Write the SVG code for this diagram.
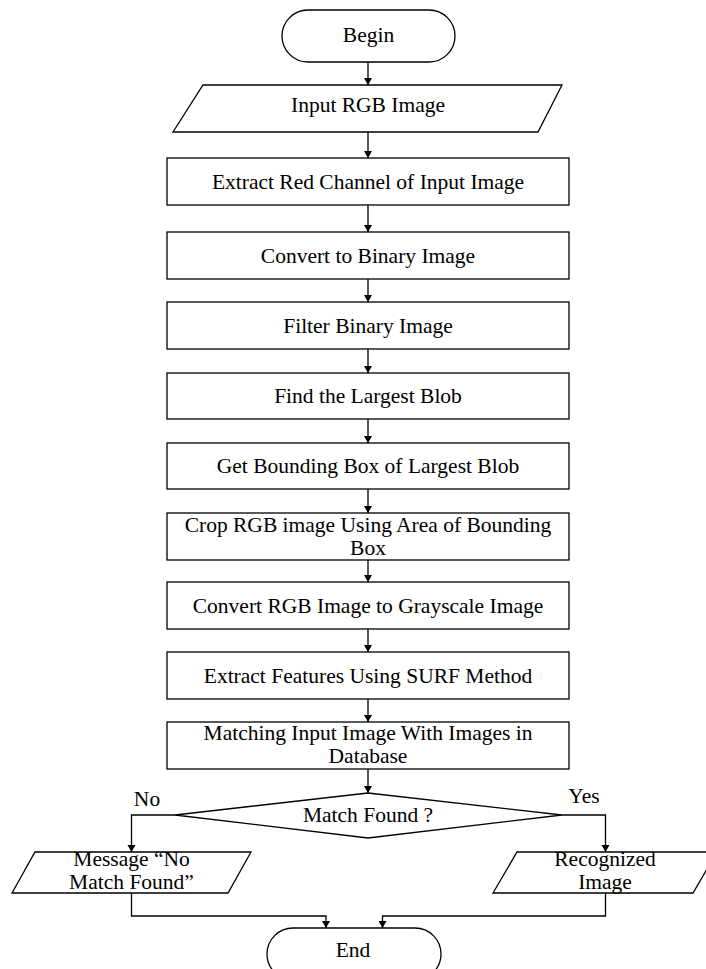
<svg xmlns="http://www.w3.org/2000/svg" width="706" height="969" viewBox="0 0 706 969">
<defs>
<style>
.s{fill:#fff;stroke:#000;stroke-width:1.3}
.c{fill:none;stroke:#000;stroke-width:1.3}
text{font-family:"Liberation Serif","Times New Roman",serif;font-size:21.5px;fill:#000;text-anchor:middle}
</style>
<marker id="ah" markerUnits="userSpaceOnUse" markerWidth="9" markerHeight="9" refX="7" refY="4" orient="auto">
<path d="M0,0 L7,4 L0,8 z" fill="#000"/>
</marker>
</defs>
<rect width="706" height="969" fill="#fff"/>
<g id="connectors">
<path class="c" marker-end="url(#ah)" d="M368,62 V85"/>
<path class="c" marker-end="url(#ah)" d="M368,132 V158"/>
<path class="c" marker-end="url(#ah)" d="M368,205 V232"/>
<path class="c" marker-end="url(#ah)" d="M368,279 V302"/>
<path class="c" marker-end="url(#ah)" d="M368,349 V373"/>
<path class="c" marker-end="url(#ah)" d="M368,419 V443"/>
<path class="c" marker-end="url(#ah)" d="M368,489 V513"/>
<path class="c" marker-end="url(#ah)" d="M368,560 V582"/>
<path class="c" marker-end="url(#ah)" d="M368,629 V652"/>
<path class="c" marker-end="url(#ah)" d="M368,699 V722"/>
<path class="c" marker-end="url(#ah)" d="M368,769 V793"/>
<path class="c" marker-end="url(#ah)" d="M175,815 H131.5 V852"/>
<path class="c" marker-end="url(#ah)" d="M562,815 H605.5 V852"/>
<path class="c" marker-end="url(#ah)" d="M131.5,893 V916 H326 V928"/>
<path class="c" marker-end="url(#ah)" d="M605.5,893 V916 H382.5 V928"/>
<text x="147" y="806">No</text>
<text x="584" y="803">Yes</text>
</g>
<g id="begin">
<rect class="s" x="282" y="10" width="173" height="52" rx="26" ry="26"/>
<text x="368.5" y="42">Begin</text>
</g>
<g id="input">
<polygon class="s" points="203,85 562,85 538,132 173,132"/>
<text x="368" y="112">Input RGB Image</text>
</g>
<g id="extract-red">
<rect class="s" x="167" y="158" width="402" height="47"/>
<text x="368" y="189">Extract Red Channel of Input Image</text>
</g>
<g id="binary">
<rect class="s" x="167" y="232" width="402" height="47"/>
<text x="368" y="263">Convert to Binary Image</text>
</g>
<g id="filter">
<rect class="s" x="167" y="302" width="402" height="47"/>
<text x="368" y="333">Filter Binary Image</text>
</g>
<g id="largest-blob">
<rect class="s" x="167" y="373" width="402" height="46"/>
<text x="368" y="403">Find the Largest Blob</text>
</g>
<g id="bounding-box">
<rect class="s" x="167" y="443" width="402" height="46"/>
<text x="368" y="473">Get Bounding Box of Largest Blob</text>
</g>
<g id="crop">
<rect class="s" x="167" y="513" width="402" height="47"/>
<text x="368" y="532">Crop RGB image Using Area of Bounding</text>
<text x="368" y="555">Box</text>
</g>
<g id="grayscale">
<rect class="s" x="167" y="582" width="402" height="47"/>
<text x="368" y="613">Convert RGB Image to Grayscale Image</text>
</g>
<g id="surf">
<rect class="s" x="167" y="652" width="402" height="47"/>
<text x="368" y="683">Extract Features Using SURF Method</text>
</g>
<g id="matching">
<rect class="s" x="167" y="722" width="402" height="47"/>
<text x="368" y="739.5">Matching Input Image With Images in</text>
<text x="368" y="762.5">Database</text>
</g>
<g id="decision">
<polygon class="s" points="368,793 562,815 368,838 175,815"/>
<text x="368" y="822">Match Found ?</text>
</g>
<g id="no-match">
<polygon class="s" points="35,852 251,852 228,893 12,893"/>
<text x="131.5" y="866">Message “No</text>
<text x="131.5" y="889">Match Found”</text>
</g>
<g id="recognized">
<polygon class="s" points="517,852 717,852 693,893 493,893"/>
<text x="605" y="866">Recognized</text>
<text x="605" y="889">Image</text>
</g>
<g id="end">
<rect class="s" x="267" y="928" width="174" height="52" rx="26" ry="26"/>
<text x="353" y="957">End</text>
</g>
</svg>
